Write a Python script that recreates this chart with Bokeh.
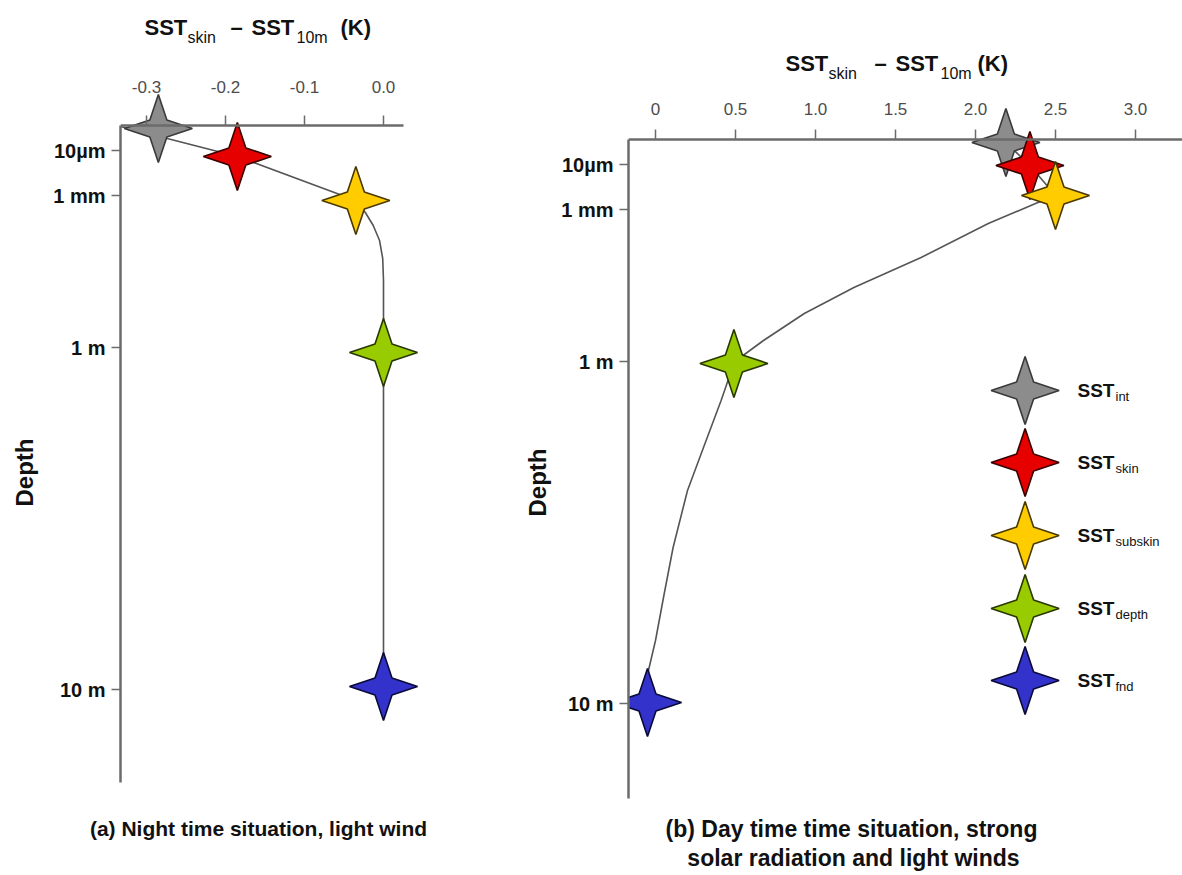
from bokeh.plotting import figure
from bokeh.models import Range1d, FixedTicker, Label, GridBox
from bokeh.embed import file_html
from bokeh.resources import INLINE
from bokeh.core.properties import value

# ---------------- data ----------------
# schematic (non-linear) depth axis, in schematic units below the surface
depth_tick_pos = [25, 70, 222, 564]
depth_tick_labels = ["10\u00b5m", "1 mm", "1 m", "10 m"]

sst_names = ["int", "skin", "subskin", "depth", "fnd"]
sst_colors = ["#8c8c8c", "#e60000", "#ffcc00", "#99cc00", "#3333cc"]
sst_edges = ["#3a3a3a", "#3a0000", "#4a3a00", "#283800", "#0a0a3a"]

# (a) night time, light wind
night_dT = [-0.285, -0.185, -0.035, 0.0, 0.0]
night_depth = [3, 31, 75, 227, 561]
night_prof_dT = [-0.333, -0.185, -0.035, -0.023, -0.013, -0.005, -0.001, 0.0, 0.0]
night_prof_depth = [1, 31, 75, 87, 100, 115, 133, 155, 561]
night_xticks = [-0.3, -0.2, -0.1, 0.0]
night_xtick_labels = ["-0.3", "-0.2", "-0.1", "0.0"]

# (b) day time, strong solar radiation, light winds
day_dT = [2.19, 2.34, 2.5, 0.49, -0.05]
day_depth = [3, 26, 56, 224, 563]
day_prof_dT = [2.19, 2.34, 2.5, 2.39, 2.08, 1.66, 1.24, 0.93, 0.675, 0.53, 0.49,
               0.41, 0.30, 0.20, 0.11, 0.05, 0.0, -0.044, -0.05]
day_prof_depth = [3, 26, 56, 63, 84, 118, 148, 174, 201, 218, 224,
                  261, 308, 351, 408, 458, 501, 531, 563]
day_xticks = [0, 0.5, 1.0, 1.5, 2.0, 2.5, 3.0]
day_xtick_labels = ["0", "0.5", "1.0", "1.5", "2.0", "2.5", "3.0"]
legend_dT = 2.31
legend_depth = [251, 323, 396, 469, 541]

FONT = "Liberation Sans"
AXIS_COLOR = "#6b6b6b"
W, H = 1182, 875
STAR_R = 34.0      # star half-size, px
STAR_IN = 0.25     # inner vertex ratio


def star_shape(cx, cy, rx, ry):
    k = STAR_IN
    fx = [0, k, 1, k, 0, -k, -1, -k]
    fy = [-1, -k, 0, k, 1, k, 0, -k]
    return [cx + rx * a for a in fx], [cy + ry * b for b in fy]


def make_fig(width, xr, yr, x_bounds, y_bounds, bl, standoff):
    p = figure(width=width, height=H, x_range=Range1d(*xr), y_range=Range1d(*yr),
               x_axis_location="above", output_backend="svg", toolbar_location=None,
               min_border_left=bl, min_border_top=60, min_border_right=0,
               min_border_bottom=0)
    p.frame_align = False
    p.outline_line_color = None
    p.background_fill_color = None
    p.border_fill_color = None
    p.grid.visible = False
    for ax in (p.xaxis[0], p.yaxis[0]):
        ax.axis_line_color = AXIS_COLOR
        ax.axis_line_width = 2.5
        ax.major_tick_line_color = AXIS_COLOR
        ax.major_tick_line_width = 1.5
        ax.major_tick_in = 0
        ax.major_tick_out = 10
        ax.minor_tick_line_color = None
    ya = p.yaxis[0]
    ya.bounds = y_bounds
    ya.major_tick_out = 9
    ya.ticker = FixedTicker(ticks=depth_tick_pos)
    ya.major_label_overrides = {t: l for t, l in zip(depth_tick_pos, depth_tick_labels)}
    ya.major_label_text_font = FONT
    ya.major_label_text_font_style = "bold"
    ya.major_label_text_font_size = "20px"
    ya.major_label_text_color = "#111111"
    ya.major_label_standoff = 6
    xa = p.xaxis[0]
    xa.fixed_location = 0
    xa.bounds = x_bounds
    xa.major_label_text_font = FONT
    xa.major_label_text_font_size = "17px"
    xa.major_label_text_color = "#4d4d4d"
    xa.major_label_standoff = standoff
    return p


def draw_profile(p, prof_x, prof_d, pts_x, pts_d, rx):
    p.line(prof_x, prof_d, line_color="#555555", line_width=1.6)
    xs, ys = [], []
    for cx, cy in zip(pts_x, pts_d):
        sx, sy = star_shape(cx, cy, rx, STAR_R)
        xs.append(sx)
        ys.append(sy)
    p.patches(xs, ys, fill_color=sst_colors, line_color=sst_edges, line_width=1.6)


# ---------------- panel (a) ----------------
A_PX, A_X0, A_TOP = 790.0, 383.0, 125.0
pa = make_fig(500, ((120 - A_X0) / A_PX, (500 - A_X0) / A_PX), (H - A_TOP, 60 - A_TOP),
              ((120 - A_X0) / A_PX, (403 - A_X0) / A_PX), (0, 657), 120, 23)
pa.xaxis[0].ticker = FixedTicker(ticks=night_xticks)
pa.xaxis[0].major_label_overrides = {t: l for t, l in zip(night_xticks, night_xtick_labels)}
draw_profile(pa, night_prof_dT, night_prof_depth, night_dT, night_depth, STAR_R / A_PX)

# ---------------- panel (b) ----------------
B_PX, B_X0, B_TOP = 160.0, 655.0, 139.0
pb = make_fig(W - 500, ((628 - B_X0) / B_PX, (W - B_X0) / B_PX), (H - B_TOP, 60 - B_TOP),
              ((628 - B_X0) / B_PX, (W - B_X0) / B_PX), (0, 659), 128, 15)
pb.xaxis[0].ticker = FixedTicker(ticks=day_xticks)
pb.xaxis[0].major_label_overrides = {t: l for t, l in zip(day_xticks, day_xtick_labels)}
draw_profile(pb, day_prof_dT, day_prof_depth, day_dT, day_depth, STAR_R / B_PX)

# legend
lxs, lys = [], []
for d in legend_depth:
    sx, sy = star_shape(legend_dT, d, STAR_R / B_PX, STAR_R)
    lxs.append(sx)
    lys.append(sy)
pb.patches(lxs, lys, fill_color=sst_colors, line_color=sst_edges, line_width=1.6)
pb.text(x=[(1077 - B_X0) / B_PX] * len(legend_depth), y=legend_depth,
        text=["SST"] * len(legend_depth), text_font=value(FONT), text_font_style="bold",
        text_font_size="19px", text_baseline="middle", text_color="#111111")
pb.text(x=[(1115 - B_X0) / B_PX] * len(legend_depth), y=[d + 6 for d in legend_depth],
        text=sst_names, text_font=value(FONT), text_font_size="13px",
        text_baseline="middle", text_color="#111111")

# ---------------- text layer (titles, captions, axis names) ----------------
ov = figure(width=W, height=H, x_range=Range1d(0, W), y_range=Range1d(H, 0),
            x_axis_location=None, y_axis_location=None, output_backend="svg",
            toolbar_location=None, min_border=0)
ov.frame_align = False
ov.outline_line_color = None
ov.background_fill_color = None
ov.border_fill_color = None
ov.grid.visible = False


def add_text(x, y, text, size, bold=True, align="left", angle=0.0):
    ov.add_layout(Label(x=x, y=y, text=text, text_font=FONT,
                        text_font_size=f"{size}px",
                        text_font_style="bold" if bold else "normal",
                        text_align=align, text_baseline="middle",
                        angle=angle, text_color="#111111"))


title_a = [("SST", 144, 27, 22, True), ("skin", 187, 37, 16, False),
           ("\u2013", 230, 27, 22, True), ("SST", 251, 27, 22, True),
           ("10m", 296, 37, 16, False), ("(K)", 340, 27, 22, True)]
title_b = [("SST", 785, 63, 22, True), ("skin", 828, 73, 16, False),
           ("\u2013", 874, 63, 22, True), ("SST", 895, 63, 22, True),
           ("10m", 940, 73, 16, False), ("(K)", 977, 63, 22, True)]
for txt, x, y, size, bold in title_a + title_b:
    add_text(x, y, txt, size, bold)

add_text(24, 472, "Depth", 24, True, "center", 1.5707963)
add_text(537, 482, "Depth", 24, True, "center", 1.5707963)
add_text(258, 828, "(a) Night time situation, light wind", 21, True, "center")
add_text(851, 828, "(b) Day time time situation, strong", 23, True, "center")
add_text(853, 857, "solar radiation and light winds", 23, True, "center")

layout = GridBox(children=[(ov, 0, 0, 1, 2), (pa, 0, 0), (pb, 0, 1)])
open("out.html", "w").write(file_html(layout, INLINE))
